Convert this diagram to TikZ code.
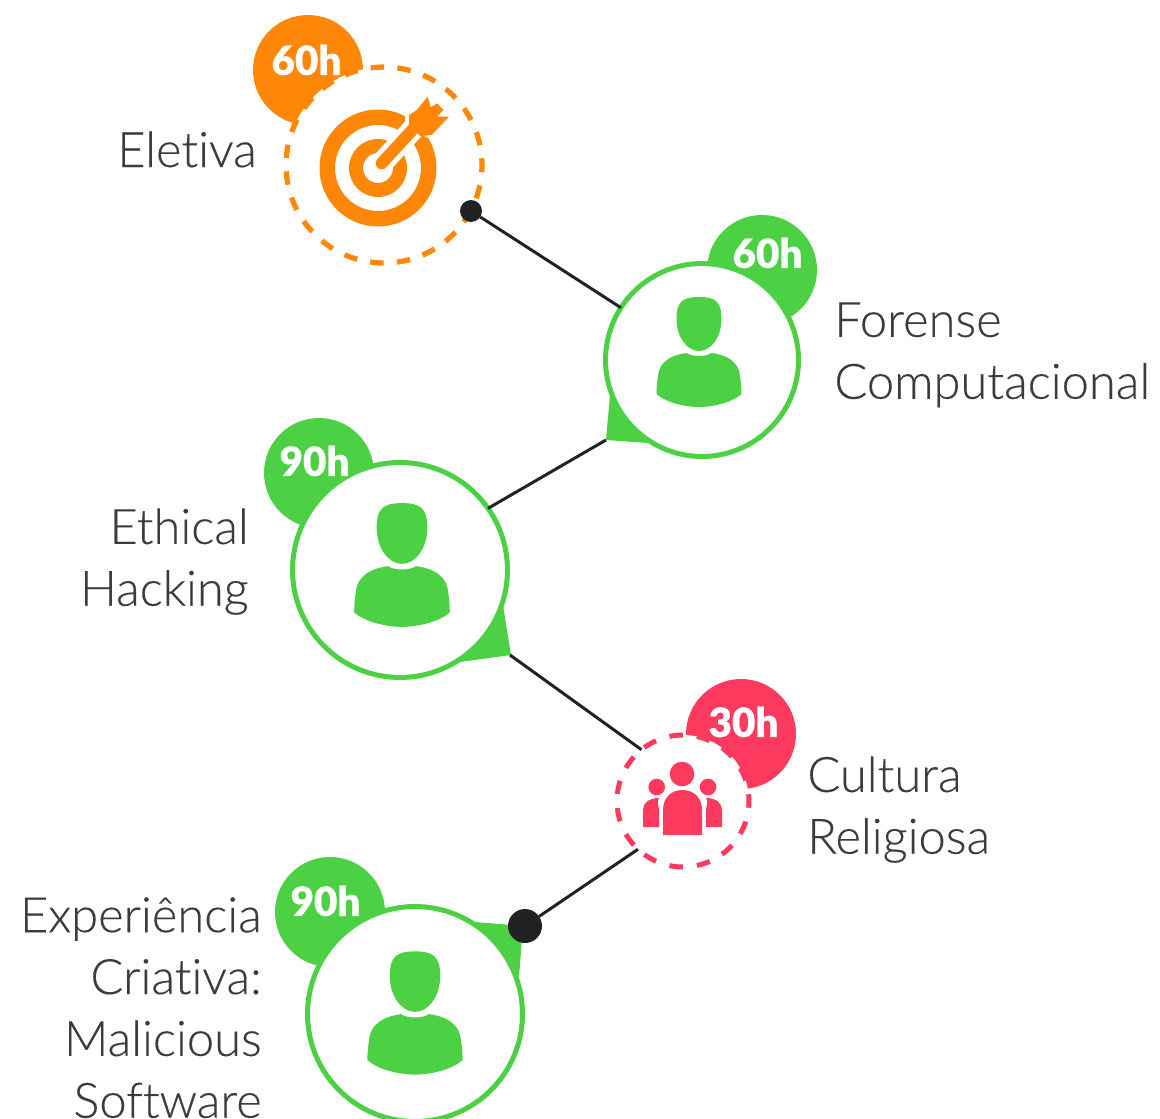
\documentclass[tikz,border=0pt]{standalone}
\usepackage{fontspec}
\setmainfont{Lato}[UprightFont=* Light,BoldFont=* Black,RawFeature=-liga,FakeBold=0.25]
\definecolor{orangeT}{HTML}{FF8708}
\definecolor{greenT}{HTML}{4CD044}
\definecolor{redT}{HTML}{FB3A5E}
\definecolor{inkT}{HTML}{222222}
\definecolor{textT}{HTML}{3C3C3C}
\tikzset{
  person/.pic={
    \fill (0,-55) .. controls (17,-55) and (22.5,-50) .. (22.5,-33) .. controls (22.5,-15) and (12,-1) .. (0,-1)
      .. controls (-12,-1) and (-22.5,-15) .. (-22.5,-33) .. controls (-22.5,-50) and (-17,-55) .. (0,-55) -- cycle;
    \fill (-12.5,1) .. controls (-7,5) and (7,5) .. (12.5,1) .. controls (28,3) and (40,10) .. (41,24)
      .. controls (42,30) and (42.5,36) .. (42.5,42) .. controls (34,50) and (15,55) .. (0,55)
      .. controls (-15,55) and (-34,50) .. (-42.5,42) .. controls (-42.5,36) and (-42,30) .. (-41,24)
      .. controls (-40,10) and (-28,3) .. (-12.5,1) -- cycle;
  },
}
\begin{document}
\begin{tikzpicture}[
      x=0.02cm,y=-0.02cm,
      link/.style={line width=0.06cm,inkT},
      dot/.style={circle,fill=inkT,inner sep=0pt,outer sep=0pt},
      badge/.style={circle,inner sep=0pt,outer sep=0pt,minimum size=2.2cm},
      hours/.style={white,font=\fontsize{23}{24}\selectfont\bfseries},
      ring/.style={circle,draw,fill=white,inner sep=0pt,outer sep=0pt,line width=0.1cm},
      dashring/.style={circle,draw,fill=white,inner sep=0pt,outer sep=0pt,line width=0.105cm},
      topic/.style={textT,inner sep=0pt,font=\fontsize{27.8}{35.2}\selectfont}
      ]
      \clip (0,0) rectangle (1160,1119);
      \node[badge,fill=orangeT] (badgeA) at (308,70) {};
      \node[badge,fill=greenT] (badgeB) at (762,270) {};
      \node[badge,fill=greenT] (badgeC) at (319,473) {};
      \node[badge,fill=redT] (badgeD) at (741,734) {};
      \node[badge,fill=greenT] (badgeE) at (330,912) {};
      \fill[greenT] (610,395) -- (606,440) -- (648,443) -- cycle;
      \fill[greenT] (503,605) -- (511,655) -- (460,662) -- cycle;
      \fill[greenT] (475,922) -- (523,926) -- (519,977) -- cycle;
      \node[dashring,draw=orangeT,minimum size=3.92cm,dash pattern=on 0.27cm off 0.265cm,dash phase=0.135cm] (eletiva) at (384,165) {};
      \node[ring,draw=greenT,minimum size=3.86cm] (forense) at (702,360) {};
      \node[ring,draw=greenT,minimum size=4.3cm] (ethical) at (400,570) {};
      \node[dashring,draw=redT,minimum size=2.64cm,line width=0.1cm,dash pattern=on 0.27cm off 0.283cm,dash phase=0.135cm] (cultura) at (683,801) {};
      \node[ring,draw=greenT,minimum size=4.3cm] (malicious) at (415,1014) {};
      \coordinate (tailB) at (606,440);
      \coordinate (tailC) at (510,655);
      \node[dot,minimum size=0.44cm] (dotA) at (471,211) {};
      \node[dot,minimum size=0.68cm] (dotE) at (525,926) {};
      \draw[link] (dotA) -- (forense);
      \draw[link] (tailB) -- (ethical.35);
      \draw[link] (tailC) -- (cultura.129);
      \draw[link] (cultura.227) -- (dotE);
      \fill[orangeT,even odd rule] (378,168) circle (58.5) (378,168) circle (43) (378,168) circle (29) (378,168) circle (15);
      \draw[white,line width=0.44cm] (381.7,163.3) -- (415,127);
      \fill[white,draw=white,line width=0.16cm] (409,115) -- (449,116.7) -- (431.7,135) -- (409,125) -- cycle;
      \draw[orangeT,line width=0.24cm,line cap=round] (381.7,163.3) -- (415,127);
      \fill[orangeT] (409,115) -- (416.7,110) -- (427.7,96.7) -- (430.7,107.3) -- (437.3,103.3) -- (443.3,110)
        -- (437.3,116.7) -- (449,116.7) -- (431.7,135) -- (420,136) -- (409,125) -- cycle;
      \pic[greenT] at (699,352) {person};
      \pic[greenT,scale=1.125] at (402,565) {person};
      \pic[greenT,scale=1.12] at (415,1013) {person};
      \fill[redT] (682,774) circle (12.3);
      \fill[redT] (656.7,787) circle (8.3);
      \fill[redT] (708,787) circle (8.3);
      \fill[redT] (663,835) -- (663,810) .. controls (663,797) and (672,790) .. (682.5,790) .. controls (693,790) and (702,797) .. (702,810) -- (702,835) -- cycle;
      \fill[redT] (643,827) -- (643,810) .. controls (643,803) and (649,798) .. (659,798) .. controls (656,802) and (659,806) .. (659,810) -- (659,827) -- cycle;
      \fill[redT] (722,827) -- (722,810) .. controls (722,803) and (716,798) .. (706,798) .. controls (709,802) and (706,806) .. (706,810) -- (706,827) -- cycle;
      \node[hours] (hoursA) at (306.5,60) {60h};
      \node[hours] (hoursB) at (767.5,253) {60h};
      \node[hours] (hoursC) at (314.5,461) {90h};
      \node[hours] (hoursD) at (743.5,722) {30h};
      \node[hours] (hoursE) at (325.5,901) {90h};
      \node[topic,anchor=base east] (labelA) at (257,167) {Eletiva};
      \node[topic,align=left,anchor=north west] (labelB) at (834,302) {Forense\\Computacional};
      \node[topic,align=right,anchor=north east] (labelC) at (249,508) {Ethical\\Hacking};
      \node[topic,align=left,anchor=north west] (labelD) at (807,756) {Cultura\\Religiosa};
      \node[topic,align=right,anchor=north east] (labelE) at (262,897) {Experiência\\Criativa:\\Malicious\\Software};
    \end{tikzpicture}
\end{document}
